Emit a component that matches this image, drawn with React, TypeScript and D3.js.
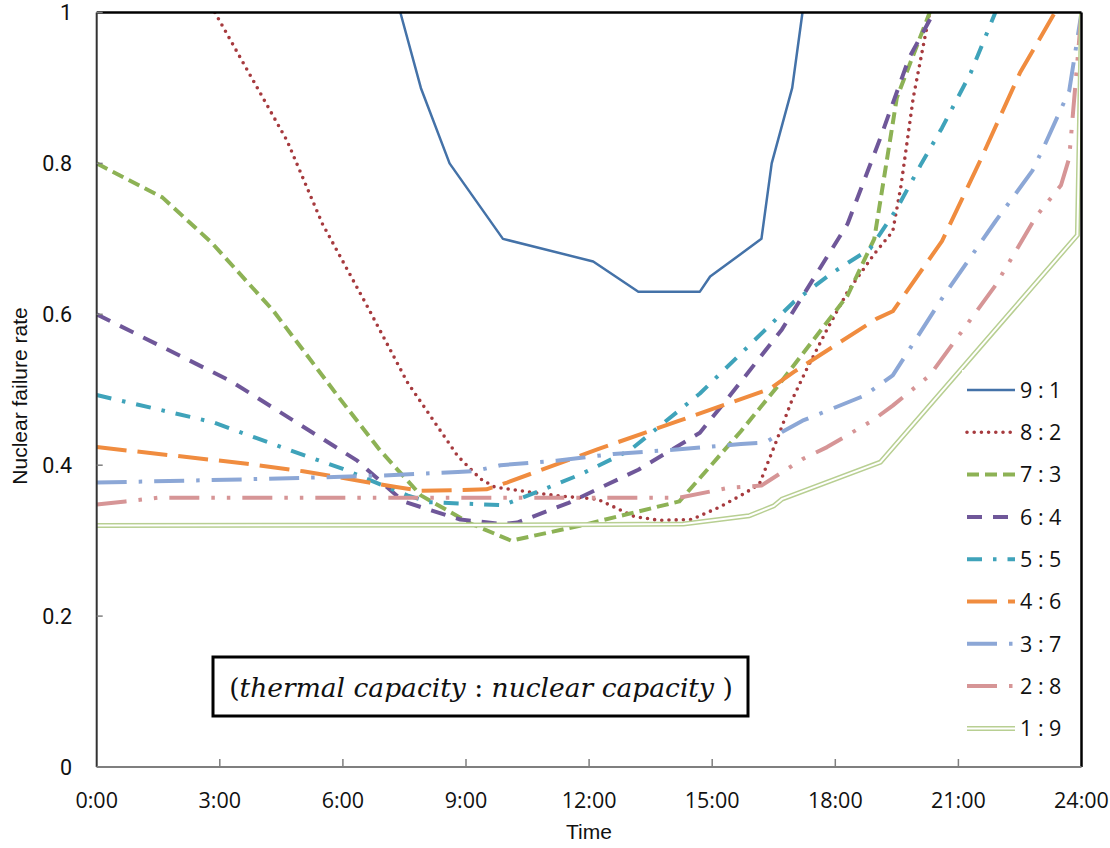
import React from 'react';
import * as d3 from 'd3';

// ---- data (hour of day, nuclear failure rate) ----
const hours91 = [7.4, 7.9, 8.6, 9.9, 12.1, 13.2, 14.7, 14.95, 16.2, 16.45, 16.95, 17.2];
const values91 = [1.0, 0.9, 0.8, 0.7, 0.67, 0.63, 0.63, 0.65, 0.7, 0.8, 0.9, 1.0];

const hours82 = [2.88, 4.64, 5.5, 6.6, 7.57, 8.8, 9.35, 9.7, 10.6, 11.3, 12.2, 13.1, 13.7, 14.5, 15.2, 15.8, 16.15, 16.55, 16.95, 17.3, 17.8, 18.3, 18.95, 19.4, 19.6, 19.9, 20.3];
const values82 = [1.0, 0.83, 0.72, 0.61, 0.51, 0.412, 0.382, 0.371, 0.364, 0.359, 0.355, 0.332, 0.327, 0.328, 0.345, 0.363, 0.375, 0.43, 0.487, 0.527, 0.58, 0.63, 0.68, 0.71, 0.77, 0.887, 1.0];

const hours73 = [0, 1.6, 2.8, 4.3, 5.9, 6.9, 7.9, 9.1, 10.1, 11.8, 14.2, 15.7, 16.6, 18.3, 18.95, 19.5, 20.3];
const values73 = [0.8, 0.755, 0.695, 0.605, 0.49, 0.42, 0.36, 0.323, 0.3, 0.32, 0.352, 0.445, 0.505, 0.625, 0.7, 0.887, 1.0];

const hours64 = [0, 3.25, 6.35, 7.47, 8.86, 9.9, 10.25, 11.5, 13.2, 14.7, 15.4, 16.7, 17.5, 18.3, 19.1, 19.8, 20.4];
const values64 = [0.6, 0.512, 0.406, 0.352, 0.328, 0.322, 0.324, 0.35, 0.394, 0.443, 0.49, 0.58, 0.65, 0.72, 0.834, 0.94, 1.0];

const hours55 = [0, 2.83, 4.96, 6.0, 7.57, 8.1, 9.9, 10.8, 11.8, 13.0, 14.7, 17.0, 17.9, 18.85, 19.5, 20.1, 20.6, 21.3, 21.9];
const values55 = [0.493, 0.457, 0.415, 0.395, 0.36, 0.351, 0.347, 0.366, 0.388, 0.42, 0.495, 0.617, 0.654, 0.687, 0.74, 0.8, 0.847, 0.92, 1.0];

const hours46 = [0, 3.66, 5.03, 7.3, 7.9, 9.5, 10.0, 12.2, 14.2, 16.4, 17.0, 19.0, 19.4, 20.6, 21.5, 22.5, 23.35];
const values46 = [0.424, 0.402, 0.392, 0.371, 0.366, 0.368, 0.377, 0.421, 0.459, 0.501, 0.524, 0.594, 0.604, 0.697, 0.8, 0.92, 1.0];

const hours37 = [0, 4.2, 6.8, 8.8, 9.2, 9.84, 11.2, 12.6, 14.2, 15.7, 16.3, 16.7, 17.2, 18.7, 19.4, 20.6, 21.9, 22.8, 23.1, 23.7, 24];
const values37 = [0.377, 0.382, 0.386, 0.391, 0.392, 0.4, 0.406, 0.415, 0.421, 0.428, 0.43, 0.444, 0.459, 0.492, 0.519, 0.621, 0.723, 0.79, 0.824, 0.896, 1.0];

const hours28 = [0, 0.7, 1.5, 14.2, 15.4, 16.2, 17.2, 17.8, 18.9, 19.4, 20.3, 21.9, 22.9, 23.5, 23.7, 24];
const values28 = [0.348, 0.352, 0.357, 0.357, 0.37, 0.373, 0.408, 0.424, 0.459, 0.479, 0.519, 0.638, 0.73, 0.771, 0.807, 1.0];

const hours19 = [0, 11.3, 14.3, 15.9, 16.5, 16.7, 19.1, 23.9, 24];
const values19 = [0.32, 0.321, 0.322, 0.333, 0.346, 0.355, 0.404, 0.705, 1.0];

const seriesNames = ['9 : 1', '8 : 2', '7 : 3', '6 : 4', '5 : 5', '4 : 6', '3 : 7', '2 : 8', '1 : 9'];
const seriesHours = [hours91, hours82, hours73, hours64, hours55, hours46, hours37, hours28, hours19];
const seriesValues = [values91, values82, values73, values64, values55, values46, values37, values28, values19];

const xTickHours = [0, 3, 6, 9, 12, 15, 18, 21, 24];
const xTickLabels = ['0:00', '3:00', '6:00', '9:00', '12:00', '15:00', '18:00', '21:00', '24:00'];
const yTickValues = [0, 0.2, 0.4, 0.6, 0.8, 1];
const yTickLabels = ['0', '0.2', '0.4', '0.6', '0.8', '1'];

// ---- styles ----
type Sty = { color: string; width: number; dash?: string; cap: 'butt' | 'round'; double?: boolean };
const styles: Sty[] = [
  { color: '#4472A8', width: 2.5, cap: 'butt' },
  { color: '#A63A3E', width: 3.6, dash: '0 7.2', cap: 'round' },
  { color: '#8DB255', width: 4, dash: '12 6', cap: 'butt' },
  { color: '#6F5799', width: 4, dash: '15 11', cap: 'butt' },
  { color: '#3FA3BA', width: 4, dash: '15 11 3.5 11', cap: 'butt' },
  { color: '#F08C3F', width: 4, dash: '30 11', cap: 'butt' },
  { color: '#8CA7D6', width: 4, dash: '30 12 3.5 12', cap: 'butt' },
  { color: '#D69596', width: 4, dash: '30 12 3.5 12 3.5 12', cap: 'butt' },
  { color: '#B8CF92', width: 5, cap: 'butt', double: true },
];

const W = 1110;
const H = 848;
const PL = 96.7;
const PR = 1081.5;
const PT = 12.5;
const PB = 767;

const tickFont = "'Open Sans', sans-serif";
const yTickFont = "Roboto, 'Open Sans', sans-serif";
const labelFont = "'Liberation Sans', Arial, sans-serif";

export default function App() {
  const x = d3.scaleLinear().domain([0, 24]).range([PL, PR]);
  const y = d3.scaleLinear().domain([0, 1]).range([PB, PT]);
  const line = d3
    .line<[number, number]>()
    .x((d) => x(d[0]))
    .y((d) => y(d[1]));

  const legendX0 = 967;
  const legendX1 = 1015;
  const legendTop = 390;
  const legendStep = 42.3;

  const renderPath = (d: string, s: Sty, key: string) =>
    s.double ? (
      <g key={key}>
        <path d={d} fill="none" stroke={s.color} strokeWidth={s.width} />
        <path d={d} fill="none" stroke="#ffffff" strokeWidth={2} />
      </g>
    ) : (
      <path
        key={key}
        d={d}
        fill="none"
        stroke={s.color}
        strokeWidth={s.width}
        strokeDasharray={s.dash}
        strokeLinecap={s.cap}
        strokeLinejoin="round"
      />
    );

  return (
    <svg
      width={W}
      height={H}
      viewBox={`0 0 ${W} ${H}`}
      style={{ position: 'absolute', left: 0, top: 0, background: '#fff' }}
    >
      <defs>
        <clipPath id="plotClip">
          <rect x={PL} y={PT} width={PR - PL} height={PB - PT} />
        </clipPath>
      </defs>
      <rect x={0} y={0} width={W} height={H} fill="#fff" />

      {/* series */}
      <g clipPath="url(#plotClip)">
        {seriesHours.map((hs, i) => {
          const pts = hs.map((h, j) => [h, seriesValues[i][j]] as [number, number]);
          return renderPath(line(pts) || '', styles[i], 's' + i);
        })}
      </g>

      {/* plot frame */}
      <line x1={PL} y1={PT} x2={PR} y2={PT} stroke="#000" strokeWidth={2.5} />
      <line x1={PR} y1={PT} x2={PR} y2={PB} stroke="#000" strokeWidth={2.5} />
      <line x1={PL} y1={PT} x2={PL} y2={PB} stroke="#333" strokeWidth={2} />
      <line x1={PL} y1={PB} x2={PR} y2={PB} stroke="#7f7f7f" strokeWidth={2} />

      {/* y ticks */}
      {yTickValues.map((v, i) => (
        <g key={'yt' + i}>
          <line x1={PL} x2={PL + 6} y1={y(v)} y2={y(v)} stroke="#7f7f7f" strokeWidth={1.5} />
          <text
            x={72}
            y={y(v) + 7.8}
            textAnchor="end"
            fontFamily={yTickFont}
            fontSize={21.5}
            fill="#111"
          >
            {yTickLabels[i]}
          </text>
        </g>
      ))}

      {/* x ticks */}
      {xTickHours.map((h, i) => (
        <g key={'xt' + i}>
          {i > 0 && i < xTickHours.length - 1 && (
            <line x1={x(h)} x2={x(h)} y1={PB} y2={PB - 8} stroke="#7f7f7f" strokeWidth={1.5} />
          )}
          <text
            x={x(h)}
            y={808}
            textAnchor="middle"
            fontFamily={tickFont}
            fontSize={21.5}
            fill="#111"
          >
            {xTickLabels[i]}
          </text>
        </g>
      ))}

      {/* axis titles */}
      <text x={589} y={839} textAnchor="middle" fontFamily={labelFont} fontSize={21} fill="#111">
        Time
      </text>
      <text
        transform={`translate(27, ${(300 + 492) / 2}) rotate(-90)`}
        textAnchor="middle"
        fontFamily={labelFont}
        fontSize={21}
        fill="#111"
      >
        Nuclear failure rate
      </text>

      {/* legend */}
      <rect x={962} y={370} width={114} height={378} fill="#fff" />
      {seriesNames.map((name, i) => {
        const ly = legendTop + i * legendStep;
        const d = `M${legendX0},${ly}L${legendX1},${ly}`;
        return (
          <g key={'lg' + i}>
            {renderPath(d, styles[i], 'lp' + i)}
            <text
              x={1020}
              y={ly + 7.8}
              fontFamily={tickFont}
              fontSize={21.5}
              fill="#111"
            >
              {name}
            </text>
          </g>
        );
      })}

      {/* annotation box */}
      <rect x={213} y={657} width={535} height={59} fill="#fff" stroke="#000" strokeWidth={3} />
      <text x={481} y={697} textAnchor="middle" fontFamily="'DejaVu Serif', serif" fontSize={26.5} fill="#111">
        <tspan>(</tspan>
        <tspan fontStyle="italic">thermal capacity</tspan>
        <tspan> : </tspan>
        <tspan fontStyle="italic">nuclear capacity</tspan>
        <tspan> )</tspan>
      </text>
    </svg>
  );
}
